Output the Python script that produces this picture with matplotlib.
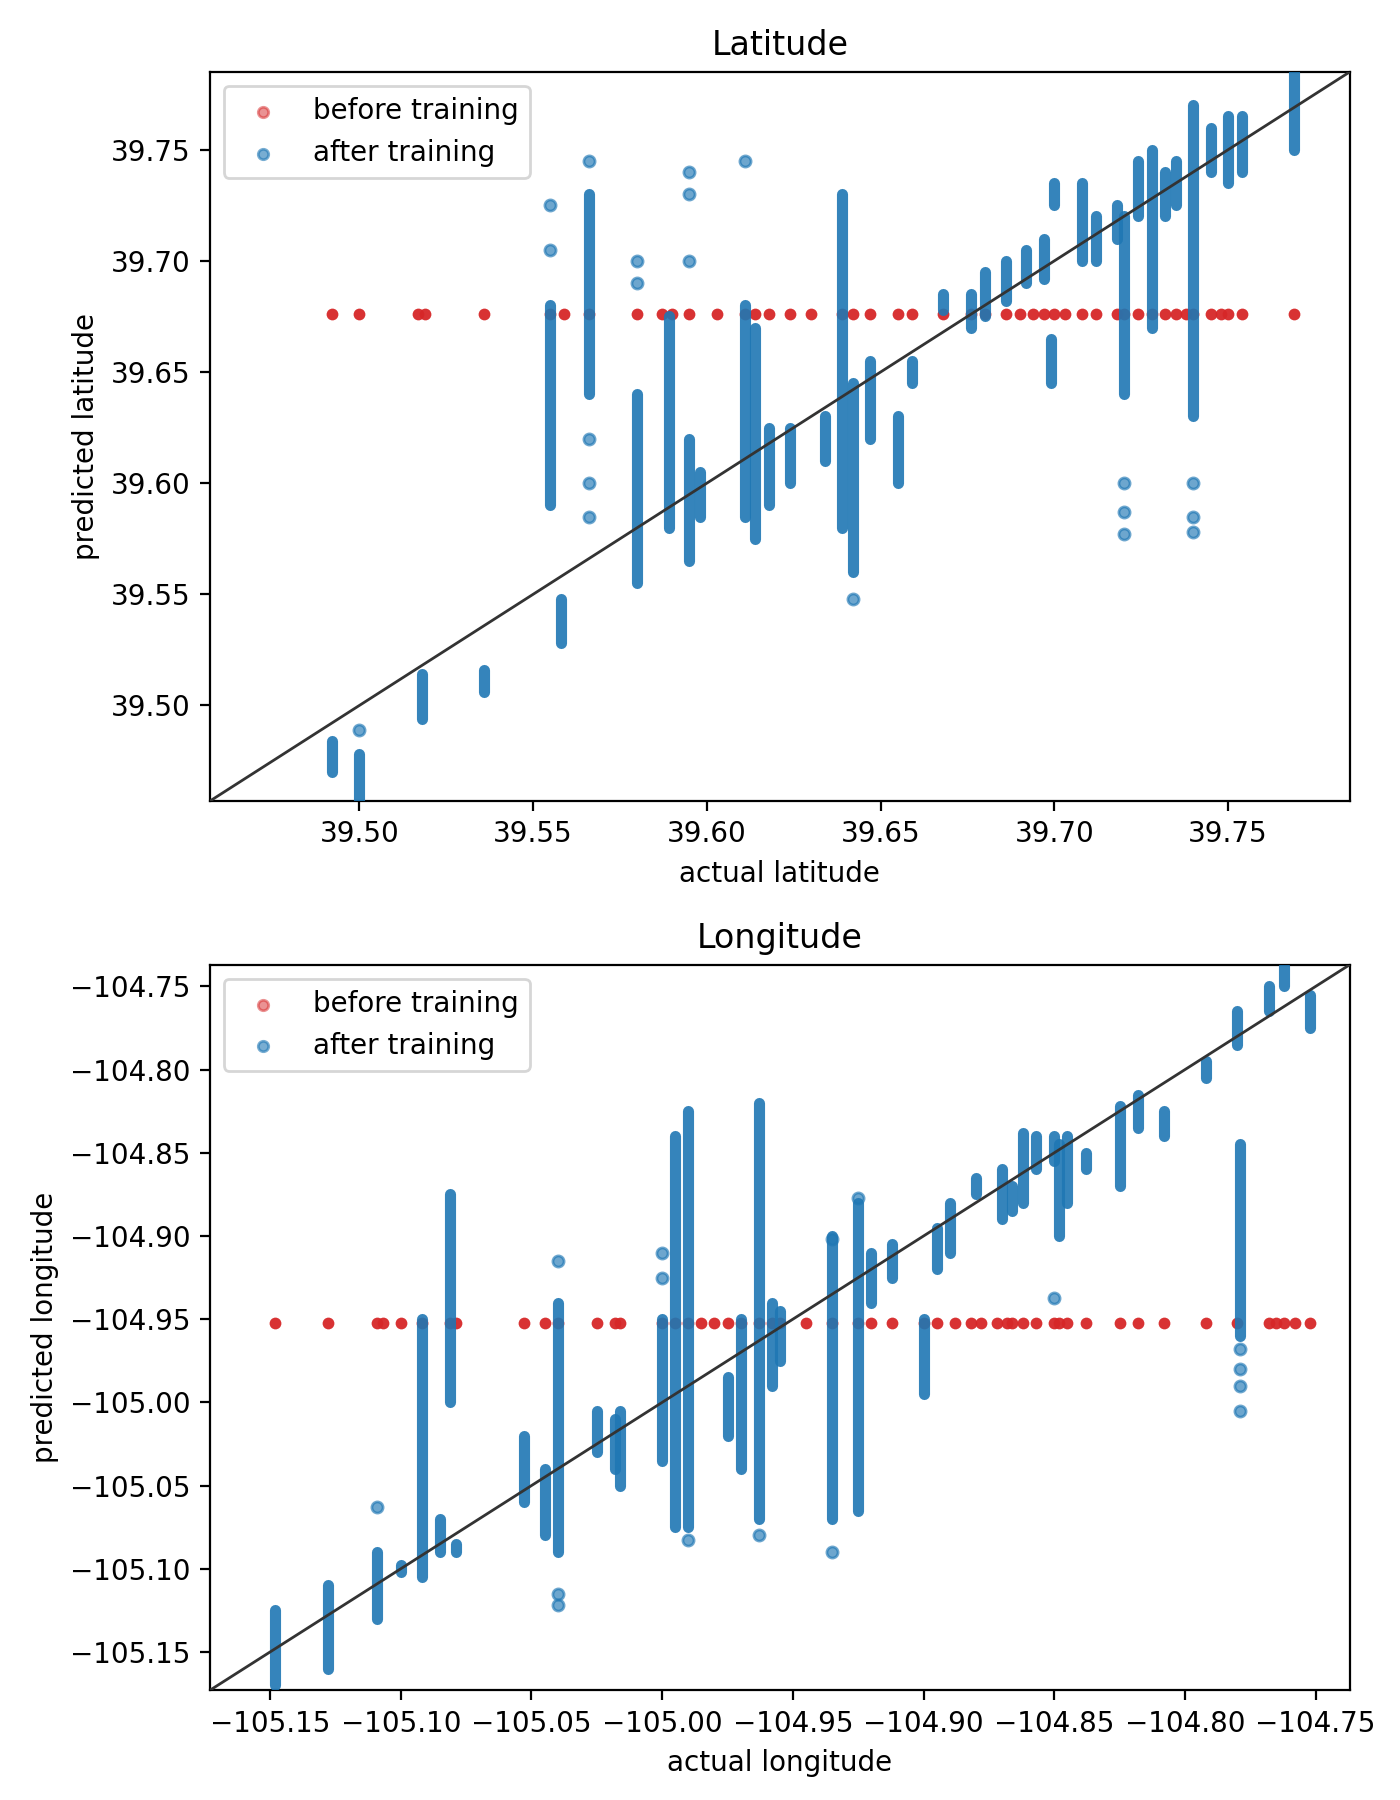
import matplotlib
matplotlib.use("Agg")
import matplotlib.pyplot as plt

# ---- Latitude data: (actual, pred_min, pred_max) ranges of predictions after training
lat_clusters = [
    (39.492, 39.470, 39.484), (39.500, 39.457, 39.478), (39.518, 39.494, 39.514),
    (39.536, 39.506, 39.516), (39.558, 39.528, 39.548), (39.555, 39.590, 39.680),
    (39.566, 39.640, 39.730), (39.580, 39.555, 39.640), (39.589, 39.580, 39.675),
    (39.595, 39.565, 39.620), (39.598, 39.585, 39.605), (39.611, 39.585, 39.680),
    (39.614, 39.575, 39.670), (39.618, 39.590, 39.625), (39.624, 39.600, 39.625),
    (39.634, 39.610, 39.630), (39.639, 39.580, 39.730), (39.642, 39.560, 39.645),
    (39.647, 39.620, 39.655), (39.655, 39.600, 39.630), (39.659, 39.645, 39.655),
    (39.668, 39.678, 39.685), (39.676, 39.670, 39.685), (39.680, 39.675, 39.695),
    (39.686, 39.682, 39.700), (39.692, 39.690, 39.705), (39.697, 39.692, 39.710),
    (39.699, 39.645, 39.665), (39.700, 39.725, 39.735), (39.708, 39.700, 39.735),
    (39.712, 39.700, 39.720), (39.718, 39.710, 39.725), (39.720, 39.640, 39.720),
    (39.724, 39.720, 39.745), (39.728, 39.670, 39.750), (39.732, 39.720, 39.740),
    (39.735, 39.725, 39.745), (39.740, 39.630, 39.770), (39.745, 39.740, 39.760),
    (39.750, 39.735, 39.765), (39.754, 39.740, 39.765), (39.769, 39.750, 39.785),
]
lat_outliers_x = [39.500, 39.555, 39.555, 39.566, 39.566, 39.566, 39.580, 39.580, 39.595, 39.595,
                  39.611, 39.642, 39.720, 39.720, 39.720, 39.740, 39.740, 39.740, 39.566, 39.595]
lat_outliers_y = [39.489, 39.705, 39.725, 39.745, 39.600, 39.585, 39.700, 39.690, 39.740, 39.730,
                  39.745, 39.548, 39.600, 39.587, 39.577, 39.600, 39.585, 39.578, 39.620, 39.700]
lat_before_x = [39.492, 39.500, 39.517, 39.519, 39.536, 39.555, 39.559, 39.566, 39.580, 39.587,
                39.590, 39.595, 39.603, 39.611, 39.614, 39.618, 39.624, 39.630, 39.639, 39.642,
                39.647, 39.655, 39.659, 39.668, 39.676, 39.680, 39.686, 39.690, 39.694, 39.697,
                39.700, 39.703, 39.708, 39.712, 39.718, 39.720, 39.724, 39.728, 39.732, 39.735,
                39.738, 39.740, 39.745, 39.748, 39.750, 39.754, 39.769]
lat_before_y = 39.676

# ---- Longitude data
lon_clusters = [
    (-105.148, -105.170, -105.125), (-105.128, -105.160, -105.110), (-105.109, -105.130, -105.090),
    (-105.100, -105.102, -105.098), (-105.092, -105.105, -104.950), (-105.085, -105.090, -105.070),
    (-105.081, -105.000, -104.875), (-105.079, -105.090, -105.085), (-105.053, -105.060, -105.020),
    (-105.045, -105.080, -105.040), (-105.040, -105.090, -104.940), (-105.025, -105.030, -105.005),
    (-105.018, -105.040, -105.010), (-105.016, -105.050, -105.005), (-105.000, -105.035, -104.950),
    (-104.995, -105.075, -104.840), (-104.990, -105.075, -104.825), (-104.975, -105.020, -104.985),
    (-104.970, -105.040, -104.950), (-104.963, -105.070, -104.820), (-104.958, -104.990, -104.940),
    (-104.955, -104.975, -104.945), (-104.935, -105.070, -104.900), (-104.925, -105.065, -104.880),
    (-104.920, -104.940, -104.910), (-104.912, -104.925, -104.905), (-104.900, -104.995, -104.950),
    (-104.895, -104.920, -104.895), (-104.890, -104.910, -104.880), (-104.880, -104.875, -104.865),
    (-104.870, -104.890, -104.860), (-104.866, -104.885, -104.870), (-104.862, -104.880, -104.838),
    (-104.857, -104.860, -104.840), (-104.850, -104.855, -104.840), (-104.848, -104.900, -104.845),
    (-104.845, -104.880, -104.840), (-104.838, -104.860, -104.850), (-104.825, -104.870, -104.822),
    (-104.818, -104.835, -104.815), (-104.808, -104.840, -104.825), (-104.792, -104.805, -104.795),
    (-104.780, -104.785, -104.765), (-104.779, -104.960, -104.845), (-104.768, -104.765, -104.750),
    (-104.762, -104.750, -104.738), (-104.752, -104.775, -104.755),
]
lon_outliers_x = [-105.109, -105.040, -105.040, -105.040, -105.000, -105.000, -104.990, -104.935,
                  -104.925, -104.779, -104.779, -104.779, -104.779, -104.850, -104.935, -104.963]
lon_outliers_y = [-105.063, -105.115, -105.122, -104.915, -104.910, -104.925, -105.083, -104.902,
                  -104.877, -104.980, -104.990, -105.005, -104.968, -104.937, -105.090, -105.080]
lon_before_x = [-105.148, -105.128, -105.109, -105.107, -105.100, -105.092, -105.081, -105.079,
                -105.053, -105.045, -105.040, -105.025, -105.018, -105.016, -105.000, -104.995,
                -104.990, -104.985, -104.980, -104.975, -104.970, -104.963, -104.958, -104.955,
                -104.945, -104.935, -104.925, -104.920, -104.912, -104.900, -104.895, -104.888,
                -104.882, -104.878, -104.872, -104.868, -104.866, -104.862, -104.857, -104.850,
                -104.848, -104.845, -104.838, -104.825, -104.818, -104.808, -104.792, -104.780,
                -104.768, -104.765, -104.762, -104.758, -104.752]
lon_before_y = -104.952

fig = plt.figure(figsize=(7, 9), dpi=200)
ax1 = fig.add_axes([0.15, 0.555, 0.814, 0.405])
ax2 = fig.add_axes([0.15, 0.061, 0.814, 0.403])

def draw(ax, clusters, ox, oy, bx, by, lims, title, label):
    ax.scatter([], [], s=14, color="tab:red", alpha=0.5, label="before training")
    ax.scatter([], [], s=14, color="tab:blue", alpha=0.6, label="after training")
    ax.scatter(bx, [by] * len(bx), s=18, color="tab:red", alpha=0.95, zorder=2, linewidths=0)
    for x, y0, y1 in clusters:
        ax.plot([x, x], [y0, y1], color="#1f77b4", alpha=0.9, lw=4.0,
                solid_capstyle="round", zorder=3)
    ax.scatter(ox, oy, s=16, color="tab:blue", alpha=0.65, zorder=3)
    ax.plot(lims, lims, color="#333333", lw=1, zorder=4)
    ax.set_xlim(lims)
    ax.set_ylim(lims)
    ax.set_title(title)
    ax.set_xlabel("actual " + label)
    ax.set_ylabel("predicted " + label)
    ax.legend(loc="upper left")

draw(ax1, lat_clusters, lat_outliers_x, lat_outliers_y, lat_before_x, lat_before_y,
     (39.457, 39.785), "Latitude", "latitude")
draw(ax2, lon_clusters, lon_outliers_x, lon_outliers_y, lon_before_x, lon_before_y,
     (-105.173, -104.737), "Longitude", "longitude")
ax1.set_xticks([39.50, 39.55, 39.60, 39.65, 39.70, 39.75])
ax1.set_yticks([39.50, 39.55, 39.60, 39.65, 39.70, 39.75])

fig.savefig("out.png", dpi=200)
